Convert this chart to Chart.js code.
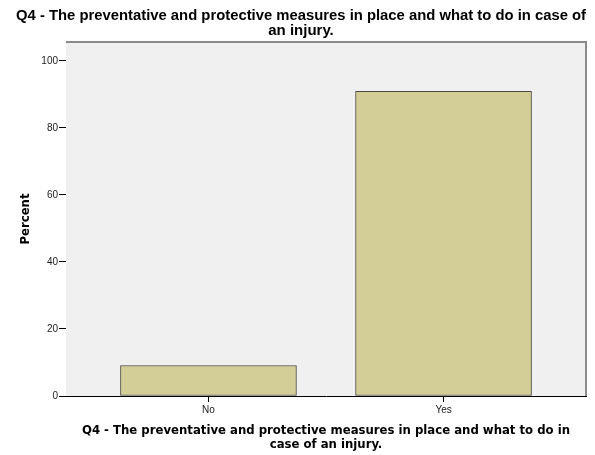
<!DOCTYPE html>
<html>
<head>
<meta charset="utf-8">
<script src="https://cdn.jsdelivr.net/npm/chart.js@4"></script>
<style>
  html, body { margin: 0; padding: 0; background: #fff; }
  #wrap { width: 595px; height: 455px; }
</style>
</head>
<body>
<div id="wrap"><canvas id="myChart" width="595" height="455"></canvas></div>
<script>
// values
var categories = ["No", "Yes"];
var percents = [9.1, 90.9];
var yTicks = [0, 20, 40, 60, 80, 100];
var chartTitle = [
  "Q4 - The preventative and protective measures in place and what to do in case of",
  "an injury."
];
var xTitle = [
  "Q4 - The preventative and protective measures in place and what to do in",
  "case of an injury."
];

var condBold = "'DejaVu Sans Condensed', 'DejaVu Sans'";

// grey plot background plus the shaded top/right frame
var plotFrame = {
  id: "plotFrame",
  beforeDatasetsDraw: function (chart) {
    var a = chart.chartArea, ctx = chart.ctx;
    ctx.save();
    ctx.fillStyle = "#f0f0f0";
    ctx.fillRect(a.left, a.top, a.right - a.left, a.bottom - a.top);
    ctx.strokeStyle = "#8a8a8a";
    ctx.lineWidth = 2;
    ctx.beginPath();
    ctx.moveTo(a.left, a.top);
    ctx.lineTo(a.right, a.top);
    ctx.lineTo(a.right, a.bottom);
    ctx.stroke();
    ctx.restore();
  }
};

var ctx = document.getElementById("myChart").getContext("2d");
var chart = new Chart(ctx, {
  type: "bar",
  data: {
    datasets: [
      {
        data: percents.map(function (v, i) { return { x: i, y: v }; }),
        backgroundColor: "#d3ce97",
        borderColor: "#4a4a40",
        borderWidth: 1,
        borderSkipped: false,
        barThickness: 176
      }
    ]
  },
  options: {
    responsive: false,
    animation: false,
    layout: { padding: { left: 16, right: 9, top: 0, bottom: 0 } },
    plugins: {
      legend: { display: false },
      tooltip: { enabled: false },
      title: {
        display: true,
        text: chartTitle,
        color: "#000",
        font: { family: "Liberation Sans", size: 15, weight: "bold", lineHeight: "15px" },
        padding: { top: 8.5, bottom: 3.5 }
      }
    },
    scales: {
      x: {
        type: "linear",
        offset: false,
        min: -0.606,
        max: 1.606,
        afterBuildTicks: function (scale) {
          scale.ticks = categories.map(function (c, i) { return { value: i }; });
        },
        afterFit: function (scale) { scale.height = 59; },
        ticks: {
          autoSkip: false,
          maxRotation: 0,
          color: "#222",
          padding: 2,
          font: { family: "Liberation Sans", size: 10 },
          callback: function (v) { return categories[v]; }
        },
        grid: { offset: false, drawOnChartArea: false, drawTicks: true, tickLength: 6, color: "#000" },
        border: { display: true, color: "#000", width: 1 },
        title: {
          display: true,
          text: xTitle,
          color: "#000",
          font: { family: condBold, size: 13, weight: "bold", lineHeight: "14px" },
          padding: { top: 0, bottom: 3 }
        }
      },
      y: {
        min: 0,
        max: 105.6,
        afterBuildTicks: function (scale) {
          scale.ticks = yTicks.map(function (v) { return { value: v }; });
        },
        afterFit: function (scale) { scale.width = 50; },
        ticks: {
          color: "#222",
          padding: 1,
          font: { family: "Liberation Sans", size: 10 }
        },
        grid: { drawOnChartArea: false, drawTicks: true, tickLength: 7, color: "#000" },
        border: { display: true, color: "#000", width: 1 },
        title: {
          display: true,
          text: "Percent",
          color: "#000",
          font: { family: condBold, size: 13, weight: "bold", lineHeight: "14px" },
          padding: { top: 3, bottom: 0 }
        }
      }
    }
  },
  plugins: [plotFrame]
});
</script>
</body>
</html>
